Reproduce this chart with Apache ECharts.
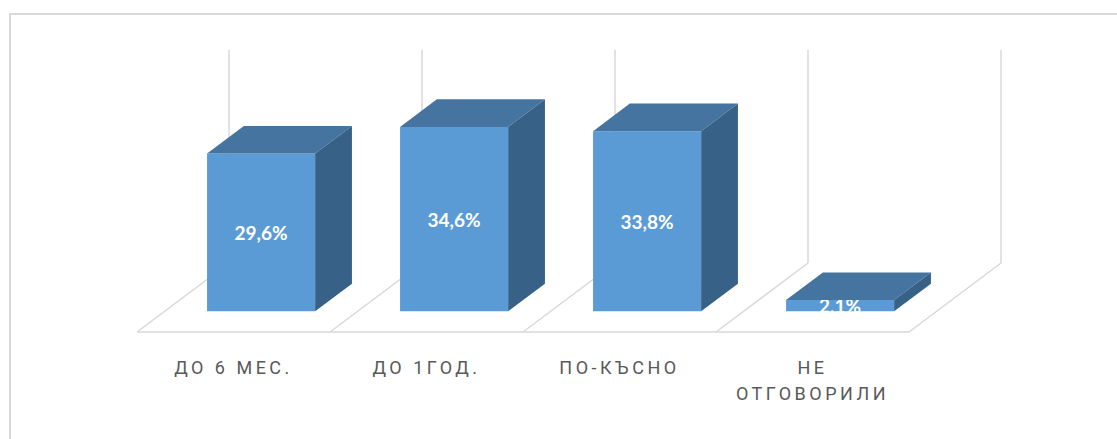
<!DOCTYPE html>
<html>
<head>
<meta charset="utf-8">
<script src="https://cdn.jsdelivr.net/npm/echarts@6/dist/echarts.min.js"></script>
<style>
  html, body { margin: 0; padding: 0; background: #ffffff; }
  #chart { width: 1117px; height: 439px; }
</style>
</head>
<body>
<div id="chart"></div>
<script>
// ---- data ----
var categories = ['ДО 6 МЕС.', 'ДО 1ГОД.', 'ПО-КЪСНО', 'НЕ\nОТГОВОРИЛИ'];
var values = [29.6, 34.6, 33.8, 2.1];
var valueAxisMax = 40;

var chart = echarts.init(document.getElementById('chart'), null, { renderer: 'svg' });

var FRONT = '#5b9bd5', TOP = '#44749f', SIDE = '#386187';
var LINE = '#d9d9d9';

function depthVec(w) { return [0.4767 * w, -0.3575 * w]; }

function renderFrame(params, api) {
  var idx = api.value(0);
  var base = api.coord([idx, 0]);
  var w = api.size([1, 0])[0];
  var D = depthVec(w);
  var topY = params.coordSys.y;
  var x0 = base[0] - w / 2, y0 = base[1];
  var st = { stroke: LINE, lineWidth: 1.5, fill: null };
  var children = [];
  function boundary(x) {
    children.push({ type: 'line', shape: { x1: x, y1: y0, x2: x + D[0], y2: y0 + D[1] }, style: st });
    children.push({ type: 'line', shape: { x1: x + D[0], y1: y0 + D[1], x2: x + D[0], y2: topY + D[1] }, style: st });
  }
  children.push({ type: 'line', shape: { x1: x0, y1: y0, x2: x0 + w, y2: y0 }, style: st });
  boundary(x0);
  if (idx === categories.length - 1) boundary(x0 + w);
  return { type: 'group', children: children, silent: true };
}

function renderBar(params, api) {
  var idx = api.value(0);
  var val = api.value(1);
  var p0 = api.coord([idx, 0]);
  var p1 = api.coord([idx, val]);
  var w = api.size([1, 0])[0];
  var D = depthVec(w);
  var Fx = 0.3 * D[0], Fy = 0.3 * D[1];
  var Bx = 0.4 * D[0], By = 0.4 * D[1];
  var bw = 0.56 * w;
  var xl = p0[0] + Fx - bw / 2, xr = xl + bw;
  var yt = p1[1] + Fy, yb = p0[1] + Fy;
  var label = String(val).replace('.', ',') + '%';
  return {
    type: 'group',
    silent: true,
    children: [
      { type: 'rect', shape: { x: xl, y: yt, width: bw, height: yb - yt }, style: { fill: FRONT } },
      { type: 'text', x: (xl + xr) / 2, y: (yt + yb) / 2,
        style: { text: label, fill: '#ffffff', font: 'bold 19px Lato, "Open Sans", sans-serif',
                 align: 'center', verticalAlign: 'middle' } },
      { type: 'polygon', shape: { points: [[xl, yt], [xr, yt], [xr + Bx, yt + By], [xl + Bx, yt + By]] },
        style: { fill: TOP } },
      { type: 'polygon', shape: { points: [[xr, yt], [xr + Bx, yt + By], [xr + Bx, yb + By], [xr, yb]] },
        style: { fill: SIDE } }
    ]
  };
}

var frameData = categories.map(function (c, i) { return [i, 0]; });
var barData = values.map(function (v, i) { return [i, v]; });

chart.setOption({
  animation: false,
  backgroundColor: '#ffffff',
  graphic: [{
    type: 'rect', z: 0, silent: true,
    shape: { x: 10, y: 14, width: 1200, height: 600 },
    style: { fill: null, stroke: '#d9d9d9', lineWidth: 2 }
  }],
  grid: { left: 137, right: 208, top: 118.8, bottom: 107, containLabel: false },
  xAxis: {
    type: 'category',
    data: categories,
    axisLine: { show: false },
    axisTick: { show: false },
    splitLine: { show: false },
    axisLabel: {
      margin: 22,
      color: '#595959',
      fontSize: 18,
      lineHeight: 26,
      fontFamily: 'Roboto, "Open Sans", sans-serif',
      interval: 0
    }
  },
  yAxis: { type: 'value', min: 0, max: valueAxisMax, show: false },
  series: [
    { type: 'custom', name: 'frame', z: 1, renderItem: renderFrame, data: frameData, silent: true },
    { type: 'custom', name: 'bars', z: 2, renderItem: renderBar, data: barData, silent: true }
  ]
});

function spaceLabels() {
  var lines = {};
  categories.forEach(function (c) { c.split('\n').forEach(function (l) { lines[l] = true; }); });
  var texts = document.querySelectorAll('#chart svg text');
  texts.forEach(function (t) {
    if (lines[t.textContent]) {
      t.style.letterSpacing = '3.5px';
    }
  });
}
chart.on('finished', spaceLabels);
spaceLabels();
</script>
</body>
</html>
